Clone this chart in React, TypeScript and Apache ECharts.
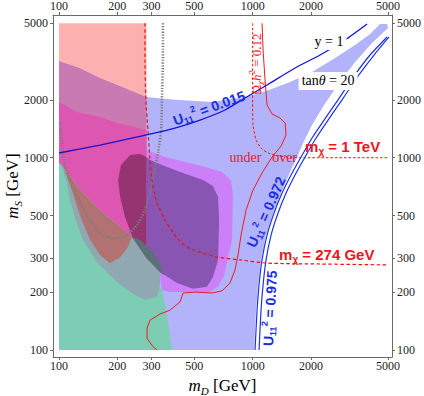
import React, { useEffect, useRef } from 'react';
import * as echarts from 'echarts';

// axis ticks (GeV)
const X_TICKS = [100, 200, 300, 500, 1000, 2000, 5000];
const Y_TICKS = [100, 200, 300, 500, 1000, 2000, 5000];

// shaded regions, points [mD, mS] in GeV
const LAVENDER = [[100,3184],[128,2927],[163,2597],[219,2304],[283,2069],[397,2000],[617,1949],[913,2069],[1215,2250],[1561,2476],[2027,2791],[2665,3300],[3380,3856],[4040,4398],[4550,4958],[4946,4958],[5000,4726],[4138,3949],[3380,3146],[2795,2446],[2338,1880],[2027,1479],[1821,1192],[1716,1033],[1561,843],[1402,655],[1275,516],[1173,396],[1105,294],[1066,218],[1041,161],[1017,100],[100,100]];
const PINK_TOP = [[100,5000],[283,5000],[283,2069],[219,2304],[163,2597],[128,2927],[100,3184]];
const MAUVE = [[100,3184],[128,2927],[163,2597],[219,2304],[283,2069],[283,100],[100,100]];
const GREEN = [[100,973],[100,100],[384,100],[361,152],[340,205],[295,261],[233,373],[163,603],[114,863]];
const VIOLET = [[283,1096],[353,1008],[448,950],[568,894],[695,843],[773,766],[792,640],[783,373],[746,304],[712,245],[663,213],[588,198],[475,200],[374,200],[340,205],[333,245],[283,312]];
const MAGENTA = [[100,1949],[124,1729],[163,1628],[199,1515],[283,1393],[283,301],[238,387],[207,436],[169,516],[133,655],[104,905],[100,938]];
const GRAY = [[101,938],[104,905],[133,655],[169,516],[207,436],[238,387],[262,373],[295,335],[325,294],[333,254],[333,218],[321,189],[278,182],[241,196],[199,226],[157,287],[133,373],[122,474],[114,603],[109,766],[104,884]];
const BROWN = [[106,884],[133,655],[169,516],[207,436],[238,387],[227,343],[207,304],[183,283],[163,312],[145,373],[131,474],[121,603],[114,721]];
const DARK_VIOLET = [[283,1008],[295,973],[361,894],[437,833],[554,766],[624,713],[663,625],[671,474],[663,294],[624,240],[581,213],[492,208],[407,223],[333,254],[283,301]];
const DARK_PINK = [[209,916],[233,1033],[262,1045],[283,1008],[283,301],[241,382],[219,492],[207,625],[202,766]];
const SLATE = [[238,387],[262,373],[295,335],[325,294],[353,245],[333,254],[283,301]];

// curves
const RED_274 = [[278,5000],[278,3222],[281,2000],[288,1393],[295,973],[302,766],[321,581],[353,474],[407,382],[458,343],[554,319],[655,304],[861,294],[1187,283],[2229,280],[5000,277]];
const RED_1TEV = [[1000,5000],[1000,2000],[1005,1479],[1041,1236],[1105,1123],[1201,1058],[1385,1020],[1758,1000],[5000,1000]];
const RED_RELIC = [[1118,5000],[1132,3633],[1159,2535],[1187,1880],[1260,1688],[1385,1609],[1471,1515],[1488,1312],[1402,1150],[1260,1008],[1118,833],[1005,679],[925,535],[871,396],[841,312],[811,261],[764,223],[695,203],[617,198],[504,200],[437,198],[422,178],[374,161],[333,154],[295,143],[285,130],[285,115],[306,104],[321,100]];
const GRAY_DOTTED = [[344,5000],[344,3222],[340,2000],[337,1393],[325,1070],[310,843],[295,663],[278,535],[253,447],[224,396],[190,378],[163,406],[140,498],[124,632],[114,766],[107,916],[104,1164],[101,1533]];
const U_015 = [[100,1058],[163,1164],[295,1328],[397,1427],[535,1570],[720,1771],[913,2045],[1187,2388],[1656,2927],[2229,3421],[3001,4094],[3898,4958]];
const U_972 = [[1029,100],[1054,161],[1079,218],[1118,294],[1187,396],[1290,516],[1419,655],[1579,813],[1778,1008],[2027,1266],[2338,1570],[2762,2000],[3340,2660],[4040,3421],[4946,4245]];
const U_975 = [[1079,100],[1105,161],[1132,218],[1173,294],[1245,396],[1353,516],[1488,655],[1656,813],[1865,1008],[2126,1266],[2452,1570],[2896,2000],[3502,2660],[4236,3421],[5063,4245]];

// annotation anchors [mD, mS] and rotations (deg)
const LABEL_POS = [[2481,4045],[2452,2506],[1041,3071],[919,1000],[1462,1000],[1865,1137],[1369,312],[595,1813],[1173,522],[1230,165]];
const LABEL_ROT = [0, 0, 90, 0, 0, 0, 0, 20, 66, 87];
const LABEL_TEXT = [
  '{t|y = 1}',
  '{t|tan}{i|θ}{t| = 20}',
  '{t|Ω}{s|χ}{i|h}{p|2}{t| = 0.12}',
  '{t|under}',
  '{t|over}',
  '{b|m}{s|χ}{b| = 1 TeV}',
  '{b|m}{s|χ}{b| = 274 GeV}',
  '{b|U}{s|11}{p|2}{b| = 0.015}',
  '{b|U}{s|11}{p|2}{b| = 0.972}',
  '{b|U}{s|11}{p|2}{b| = 0.975}',
];

const L10 = (v: number) => Math.log10(v);
const toLog = (pts: number[][]) => pts.map(([x, y]) => [L10(x), L10(y)]);

const SERIF = '"Liberation Serif", "DejaVu Serif", serif';
const SANS = '"Liberation Sans", Arial, sans-serif';

function polygon(pts: number[][], color: string, z: number) {
  const data = toLog(pts);
  return {
    type: 'custom',
    xAxisIndex: 0,
    yAxisIndex: 0,
    z,
    silent: true,
    clip: true,
    data,
    encode: { x: 0, y: 1 },
    renderItem: (params: any, api: any) => {
      if (params.dataIndex !== 0) return null;
      const points = data.map((d) => api.coord(d));
      return { type: 'polygon', shape: { points }, style: { fill: color, stroke: null } };
    },
  };
}

function curve(pts: number[][], color: string, width: number, type: any, z: number, smooth = 0) {
  return {
    type: 'line',
    xAxisIndex: 0,
    yAxisIndex: 0,
    z,
    silent: true,
    showSymbol: false,
    symbol: 'none',
    smooth,
    data: toLog(pts),
    lineStyle: { color, width, type },
  };
}

function labelStyle(i: number) {
  const red = '#f0141e';
  const blue = '#1a2ee6';
  if (i === 0 || i === 1) {
    return {
      fill: '#000',
      backgroundColor: '#fff',
      padding: [1, 3],
      rich: {
        t: { fontFamily: SERIF, fontSize: 14, fill: '#000', lineHeight: 16 },
        i: { fontFamily: SERIF, fontSize: 14, fontStyle: 'italic', fill: '#000', lineHeight: 16 },
      },
    };
  }
  if (i === 2) {
    return {
      rich: {
        t: { fontFamily: SERIF, fontSize: 13, fill: red, lineHeight: 17 },
        i: { fontFamily: SERIF, fontSize: 13, fontStyle: 'italic', fill: red, lineHeight: 17 },
        s: { fontFamily: SERIF, fontSize: 9, fontStyle: 'italic', fill: red, lineHeight: 9, verticalAlign: 'bottom' },
        p: { fontFamily: SERIF, fontSize: 9, fill: red, lineHeight: 9, verticalAlign: 'top' },
      },
    };
  }
  if (i === 3 || i === 4) {
    return { rich: { t: { fontFamily: SERIF, fontSize: 14, fill: red, lineHeight: 16 } } };
  }
  if (i === 5 || i === 6) {
    return {
      rich: {
        b: { fontFamily: SANS, fontSize: 15, fontWeight: 'bold', fill: red, lineHeight: 19 },
        s: { fontFamily: SANS, fontSize: 10, fontWeight: 'bold', fill: red, lineHeight: 10, verticalAlign: 'bottom' },
      },
    };
  }
  return {
    rich: {
      b: { fontFamily: SANS, fontSize: 14, fontWeight: 'bold', fill: blue, lineHeight: 18 },
      s: { fontFamily: SANS, fontSize: 9, fontWeight: 'bold', fill: blue, lineHeight: 9, verticalAlign: 'bottom' },
      p: { fontFamily: SANS, fontSize: 9, fontWeight: 'bold', fill: blue, lineHeight: 9, verticalAlign: 'top' },
    },
  };
}

export default function App() {
  const ref = useRef<HTMLDivElement>(null);
  useEffect(() => {
    if (!ref.current) return;
    const chart = echarts.init(ref.current, null, { renderer: 'svg' });
    const xMin = 1.969, xMax = 3.7197, yMin = 1.9636, yMax = 3.7422;
    const fmt = (v: number) => String(Math.round(Math.pow(10, v)));
    const axisCommon = {
      type: 'value',
      splitLine: { show: false },
      axisLine: { show: true, lineStyle: { color: '#6a6a6a', width: 1 } },
      axisTick: { show: true, inside: false, length: 3, lineStyle: { color: '#6a6a6a' } },
    };
    const xAxis = (pos: string) => ({
      ...axisCommon,
      position: pos,
      min: xMin,
      max: xMax,
      axisTick: { ...axisCommon.axisTick, customValues: X_TICKS.map(L10) },
      axisLabel: {
        customValues: X_TICKS.map(L10),
        formatter: fmt,
        fontFamily: SERIF,
        fontSize: 12,
        color: '#222',
        margin: 3,
        hideOverlap: false,
      },
    });
    const yAxis = (pos: string) => ({
      ...axisCommon,
      position: pos,
      min: yMin,
      max: yMax,
      axisTick: { ...axisCommon.axisTick, customValues: Y_TICKS.map(L10) },
      axisLabel: {
        customValues: Y_TICKS.map(L10),
        formatter: fmt,
        fontFamily: SERIF,
        fontSize: 12,
        color: '#222',
        margin: 5,
        hideOverlap: false,
      },
    });

    const labelData = toLog(LABEL_POS);
    const option: any = {
      animation: false,
      backgroundColor: '#fff',
      grid: { left: 53, right: 32, top: 15, bottom: 39, containLabel: false, outerBoundsMode: 'none' },
      xAxis: [
        {
          ...xAxis('bottom'),
          name: '{i|m}{s|D}{n| [GeV]}',
          nameLocation: 'middle',
          nameGap: 18,
          nameMoveOverlap: false,
          nameTextStyle: {
            rich: {
              i: { fontFamily: SERIF, fontSize: 17, fontStyle: 'italic', color: '#000', lineHeight: 21 },
              s: { fontFamily: SERIF, fontSize: 11, fontStyle: 'italic', color: '#000', lineHeight: 11, verticalAlign: 'bottom' },
              n: { fontFamily: SERIF, fontSize: 17, color: '#000', lineHeight: 21 },
            },
          },
        },
        xAxis('top'),
      ],
      yAxis: [
        {
          ...yAxis('left'),
          name: '{i|m}{s|S}{n| [GeV]}',
          nameLocation: 'middle',
          nameRotate: 90,
          nameGap: 30,
          nameMoveOverlap: false,
          nameTextStyle: {
            rich: {
              i: { fontFamily: SERIF, fontSize: 17, fontStyle: 'italic', color: '#000', lineHeight: 21 },
              s: { fontFamily: SERIF, fontSize: 11, fontStyle: 'italic', color: '#000', lineHeight: 11, verticalAlign: 'bottom' },
              n: { fontFamily: SERIF, fontSize: 17, color: '#000', lineHeight: 21 },
            },
          },
        },
        yAxis('right'),
      ],
      series: [
        polygon(LAVENDER, '#b3b3fb', 1),
        polygon(PINK_TOP, '#fcb1b0', 1),
        polygon(MAUVE, '#c97ab3', 1),
        polygon(GREEN, '#7dcdb4', 1),
        polygon(VIOLET, '#cc80f8', 1),
        polygon(MAGENTA, '#dd56b1', 1),
        polygon(GRAY, '#8fa8b2', 1),
        polygon(BROWN, '#b27272', 1),
        polygon(DARK_VIOLET, '#8855b2', 1),
        polygon(DARK_PINK, '#953470', 1),
        polygon(SLATE, '#5c7079', 1),
        curve(GRAY_DOTTED, '#7c7c7c', 2.6, [1.2, 1.6], 3, 0.2),
        curve(RED_274, '#f01010', 1.2, [3.5, 2.5], 3, 0.2),
        curve(RED_1TEV, '#f01010', 1, [2.5, 2], 3, 0.2),
        curve(RED_RELIC, '#ee1c1c', 1, 'solid', 3, 0),
        curve(U_015, '#1414d2', 1.3, 'solid', 3, 0.2),
        curve(U_972, '#1f32e6', 1.2, 'solid', 3, 0.2),
        curve(U_975, '#1f32e6', 1.2, 'solid', 3, 0.2),
        {
          type: 'custom',
          xAxisIndex: 0,
          yAxisIndex: 0,
          z: 5,
          silent: true,
          clip: false,
          data: labelData,
          encode: { x: 0, y: 1 },
          renderItem: (params: any, api: any) => {
            const i = params.dataIndex;
            const [px, py] = api.coord([api.value(0), api.value(1)]);
            const align = i === 5 || i === 6 ? 'left' : 'center';
            return {
              type: 'text',
              x: px,
              y: py,
              rotation: (LABEL_ROT[i] * Math.PI) / 180,
              style: {
                text: LABEL_TEXT[i],
                align,
                verticalAlign: 'middle',
                ...labelStyle(i),
              },
            };
          },
        },
      ],
    };
    chart.setOption(option);
    return () => chart.dispose();
  }, []);
  return (
    <div
      ref={ref}
      style={{ position: 'fixed', left: 0, top: 0, width: 424, height: 396, background: '#fff' }}
    />
  );
}
